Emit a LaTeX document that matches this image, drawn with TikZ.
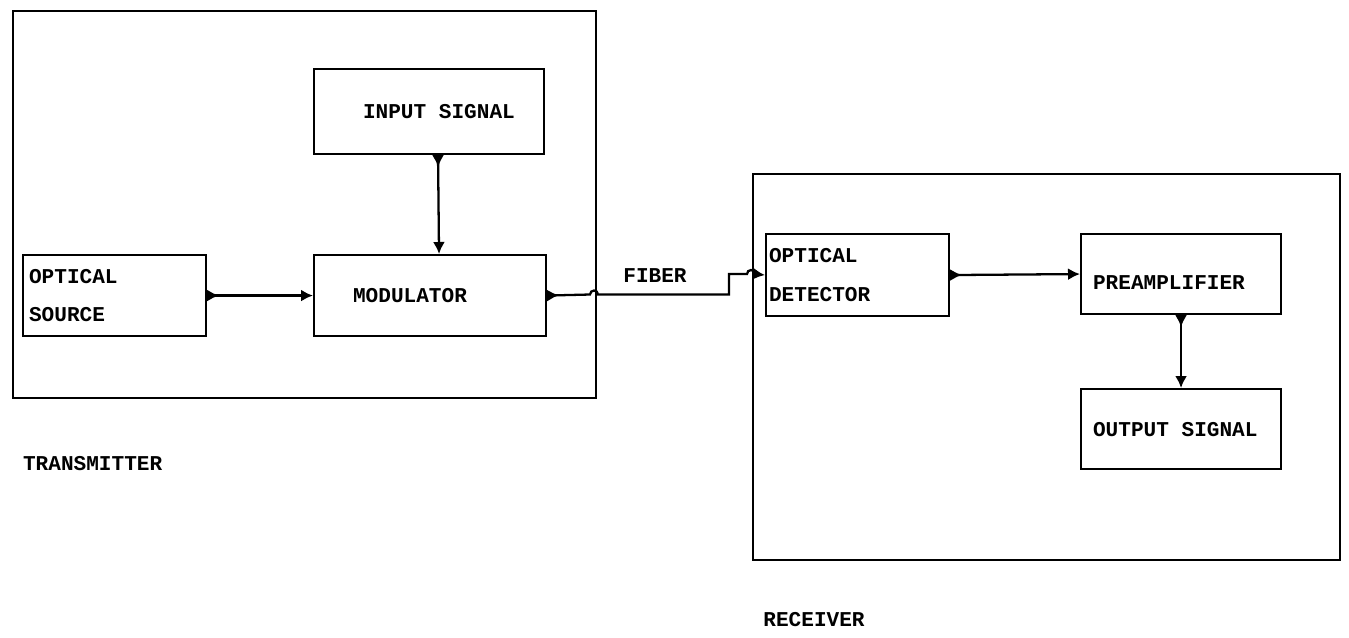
\documentclass[tikz,border=0pt]{standalone}
\usepackage{fontspec}
\setmonofont{Liberation Mono}
\usetikzlibrary{arrows.meta, positioning}

\begin{document}
\begin{tikzpicture}[
    x=0.02cm, y=-0.02cm,
    line width=1.2pt,
    box/.style={draw, anchor=north west, inner sep=0pt},
    txt/.style={inner sep=0pt, align=left,
        font=\fontsize{12}{22}\selectfont\ttfamily\bfseries},
    flow/.style={line width=1.3pt,
        {Latex[reversed,length=2.4mm,width=2.4mm]}-{Latex[length=2.4mm,width=2.4mm]}}
]
\useasboundingbox (0,0) rectangle (1349,637);

% frames
\node[box, minimum width=11.66cm, minimum height=7.74cm] (tx) at (12,10) {};
\node[box, minimum width=11.74cm, minimum height=7.72cm] (rx) at (752,173) {};

% transmitter blocks
\node[box, minimum width=4.6cm, minimum height=1.7cm] (inp) at (313,68) {};
\node[box, minimum width=3.66cm, minimum height=1.62cm] (src) at (22,254) {};
\node[box, minimum width=4.64cm, minimum height=1.62cm] (mod) at (313,254) {};

% receiver blocks
\node[box, minimum width=3.66cm, minimum height=1.64cm] (det) at (765,233) {};
\node[box, minimum width=4cm, minimum height=1.6cm] (pre) at (1080,233) {};
\node[box, minimum width=4cm, minimum height=1.6cm] (out) at (1080,388) {};

% texts
\node[txt, right=0.12cm of src.west] (srctxt) {OPTICAL\\SOURCE};
\node[txt, right=0.78cm of mod.west] (modtxt) {MODULATOR};
\node[txt, right=0.98cm of inp.west] (inptxt) {INPUT SIGNAL};
\node[txt, right=0.06cm of det.west] (dettxt) {OPTICAL\\DETECTOR};
\node[txt, right=0.24cm of pre.west, yshift=-0.18cm] (pretxt) {PREAMPLIFIER};
\node[txt, right=0.24cm of out.west] (outtxt) {OUTPUT SIGNAL};
\node[txt] (fiber) at (655,276) {FIBER};
\node[txt, anchor=west] (txlabel) at (22,464) {TRANSMITTER};
\node[txt] (rxlabel) at (814,620) {RECEIVER};

% connections
\draw[flow] (src.east) -- (mod.west);
\draw[flow] ([xshift=0.18cm]inp.south) -- ([xshift=0.18cm]mod.north);
\draw[flow] (det.east) -- (pre.west);
\draw[flow] (pre.south) -- (out.north);
\draw[flow] (mod.east) -- (590,294.5) arc[start angle=180, end angle=360, radius=4]
    -- (729,294.5) -- (729,274) -- (747,274) arc[start angle=180, end angle=360, radius=4]
    -- (det.west);

\end{tikzpicture}
\end{document}
